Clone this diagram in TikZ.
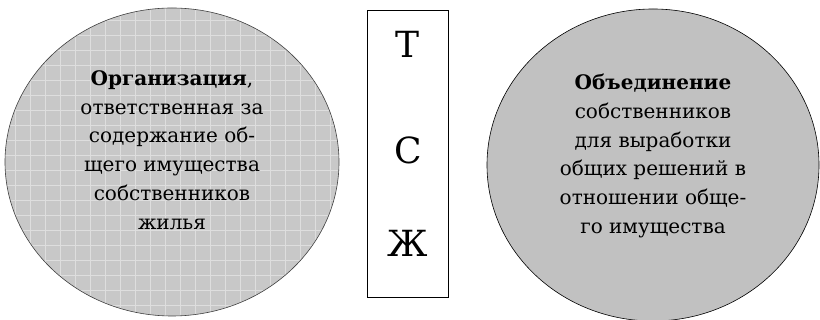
\documentclass[tikz,border=0pt]{standalone}
\usepackage{fontspec}
\setmainfont{DejaVu Serif}
\usepackage{tikz}
\usetikzlibrary{shapes.geometric}

\definecolor{orgfill}{RGB}{200,200,200}
\definecolor{gridline}{RGB}{222,222,222}
\definecolor{unionfill}{RGB}{193,193,193}

\tikzset{
  bigcirc/.style={ellipse,minimum width=334pt,minimum height=308pt,inner sep=0pt},
  circtext/.style={align=center,font=\fontsize{20}{28.8}\selectfont},
  lettr/.style={font=\fontsize{36}{36}\selectfont,inner sep=0pt}
}

\begin{document}
\begin{tikzpicture}[x=1pt,y=1pt]
\useasboundingbox (0,0) rectangle (820,320);

% left circle with grid
\node[bigcirc,fill=orgfill] (org) at (172,158) {};
\begin{scope}
\clip (172,158) ellipse (167 and 154);
\draw[gridline,line width=0.9pt,step=15] (0,0) grid (345,320);
\end{scope}
\node[bigcirc,draw=black!75,line width=0.6pt] (orgrim) at (172,158) {};
\node[circtext] (orgtxt) at (172,170) {\textbf{Организация},\\ответственная за\\содержание об-\\щего имущества\\собственников\\жилья};

% box in the middle
\node[draw,line width=1pt,minimum width=81pt,minimum height=287pt,inner sep=0pt] (tsj) at (407.5,165.5) {};
\node[lettr] (t) at (408,276) {Т};
\node[lettr] (s) at (408,170) {С};
\node[lettr] (zh) at (408,77) {Ж};

% right circle
\node[bigcirc,fill=unionfill,draw=black,line width=0.6pt,minimum width=332pt,minimum height=312pt] (unio) at (653,155) {};
\node[circtext] (uniotxt) at (653,164) {\textbf{Объединение}\\собственников\\для выработки\\общих решений в\\отношении обще-\\го имущества};
\end{tikzpicture}
\end{document}
